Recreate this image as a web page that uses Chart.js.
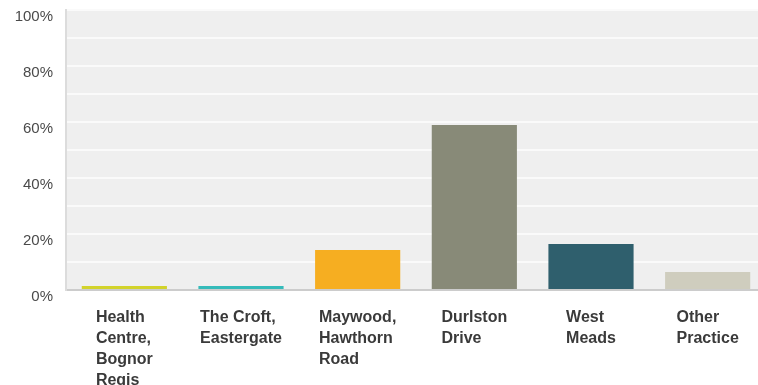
<!DOCTYPE html>
<html>
<head>
<meta charset="utf-8">
<script src="https://cdn.jsdelivr.net/npm/chart.js"></script>
<style>
  html, body { margin: 0; padding: 0; background: #fff; overflow: hidden; }
  /* the plot runs a little past the right edge of the frame */
  #frame { width: 758px; height: 385px; overflow: hidden; }
  #wrap { width: 766px; height: 385px; position: relative; }
</style>
</head>
<body>
<div id="frame"><div id="wrap"><canvas id="chart"></canvas></div></div>
<script>
(function() {
'use strict';

// data
const labels = [
  ['Health', 'Centre,', 'Bognor', 'Regis'],
  ['The Croft,', 'Eastergate'],
  ['Maywood,', 'Hawthorn', 'Road'],
  ['Durlston', 'Drive'],
  ['West', 'Meads'],
  ['Other', 'Practice']
];
const values = [1.4, 1.4, 14.3, 58.9, 16.4, 6.4];
const colors = ['#d2d32b', '#35bbba', '#f6ae21', '#888a78', '#2f5f6d', '#cfcdbe'];
const yTicks = [0, 20, 40, 60, 80, 100];

// grey plot background
const plotBg = {
  id: 'plotBg',
  beforeDraw(chart) {
    const a = chart.chartArea, ctx = chart.ctx;
    ctx.save();
    ctx.fillStyle = '#efefef';
    ctx.fillRect(a.left, a.top, a.right - a.left, a.bottom - a.top);
    ctx.restore();
  }
};

// category labels: block centred on the bar, lines left aligned
const xLabels = {
  id: 'xLabels',
  afterDraw(chart) {
    const ctx = chart.ctx, x = chart.scales.x, bottom = chart.chartArea.bottom;
    ctx.save();
    ctx.font = 'bold 16px "Liberation Sans", Arial, sans-serif';
    ctx.fillStyle = '#3a3a3a';
    ctx.textAlign = 'left';
    ctx.textBaseline = 'alphabetic';
    labels.forEach((lines, i) => {
      const cx = x.getPixelForValue(i);
      const w = Math.max(...lines.map(l => ctx.measureText(l).width));
      lines.forEach((l, j) => ctx.fillText(l, cx - w / 2, bottom + 32 + j * 21));
    });
    ctx.restore();
  }
};

new Chart(document.getElementById('chart'), {
  type: 'bar',
  data: {
    labels: labels.map(l => l.join(' ')),
    datasets: [{
      data: values,
      backgroundColor: colors,
      borderWidth: 0,
      barPercentage: 0.73,
      categoryPercentage: 1
    }]
  },
  options: {
    responsive: true,
    maintainAspectRatio: false,
    animation: false,
    layout: {padding: 0},
    plugins: {
      legend: {display: false},
      tooltip: {enabled: false}
    },
    scales: {
      x: {
        grid: {display: false, drawTicks: false},
        border: {display: true, color: '#cccccc', width: 2},
        ticks: {display: false},
        afterFit(s) { s.height = 95; }
      },
      y: {
        min: 0,
        max: 100,
        grid: {color: '#fafafa', lineWidth: 2, drawTicks: false},
        border: {display: true, color: '#dcdcdc', width: 2},
        ticks: {
          stepSize: 10,
          padding: 13,
          labelOffset: 7,
          color: '#4a4a4a',
          font: {family: '"Liberation Sans", Arial, sans-serif', size: 15},
          callback: v => yTicks.includes(v) ? v + '%' : ''
        },
        afterFit(s) {
          s.width = 66;
          s.paddingTop = 10;
          s.paddingBottom = 0;
        }
      }
    }
  },
  plugins: [plotBg, xLabels]
});
})();
</script>
</body>
</html>
